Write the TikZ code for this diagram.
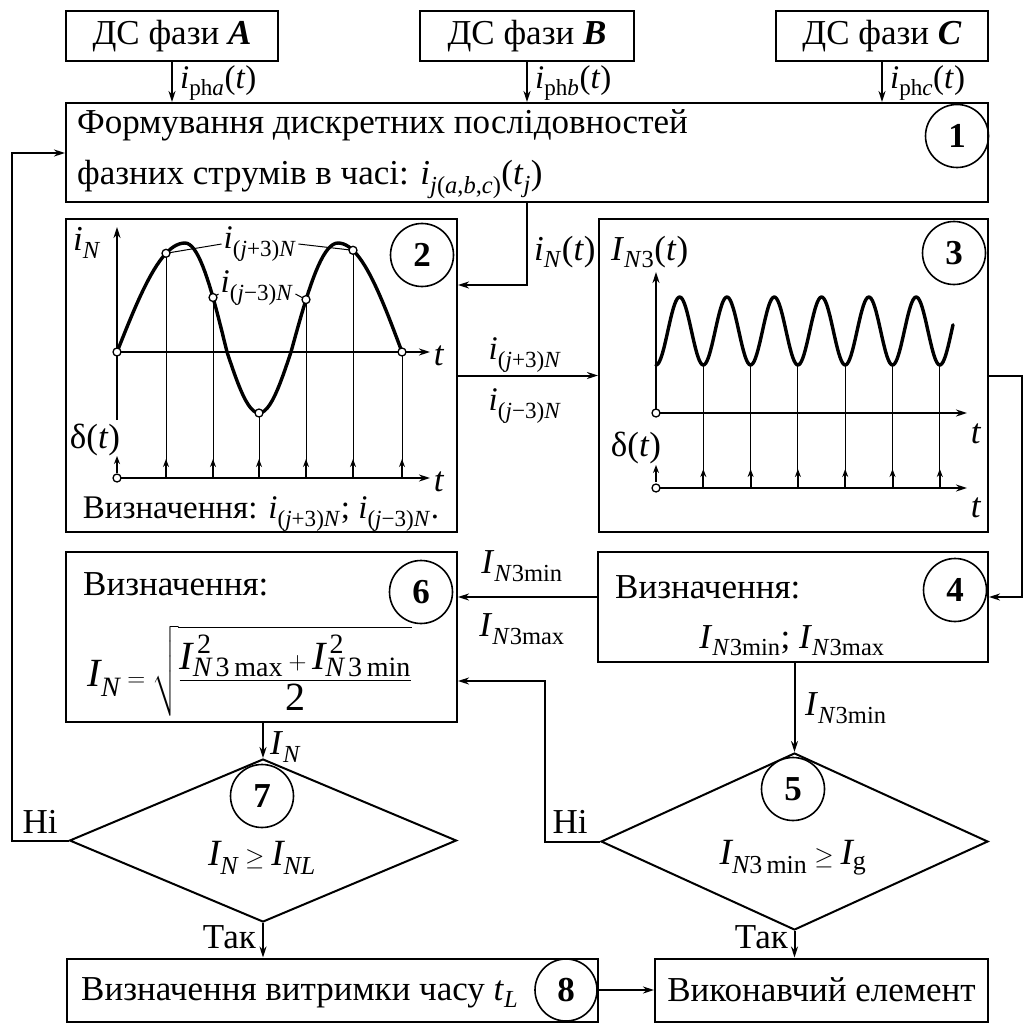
\documentclass[tikz,border=0pt]{standalone}
\usepackage{amsmath}
\usepackage{fontspec}
\setmainfont{Liberation Serif}
\usetikzlibrary{arrows.meta,shapes.geometric}
\newcommand{\sbs}[1]{\textsubscript{#1}}
\newcommand{\vi}[1]{\textit{#1}}
\begin{document}
\begin{tikzpicture}[x=1pt,y=-1pt,
  font=\fontsize{35}{42}\selectfont,
  box/.style={draw, line width=2pt, inner sep=0, rectangle},
  num/.style={circle, draw, line width=1.6pt, minimum size=63pt, inner sep=0, font=\fontsize{35}{42}\selectfont\bfseries},
  lbl/.style={inner sep=0},
  small/.style={font=\fontsize{33}{40}\selectfont},
  conn/.style={line width=2pt, -{Stealth[length=11pt,width=7pt]}},
  ax/.style={line width=2pt, -{Stealth[length=11pt,width=7pt]}},
  crv/.style={line width=3.4pt, line join=round, line cap=round},
  thinln/.style={line width=1pt},
  pulse/.style={line width=2pt, -{Stealth[length=8pt,width=6pt]}},
  dotc/.style={fill=white, draw=black, line width=1.3pt},
  dia/.style={diamond, draw, line width=2pt, inner sep=0},
]
\useasboundingbox (0,0) rectangle (1022,1024);

% ---------- top boxes ----------
\node[box, minimum width=212, minimum height=50] (A) at (172,36) {ДС фази \textbf{\textit{A}}};
\node[box, minimum width=214, minimum height=50] (B) at (527,36) {ДС фази \textbf{\textit{B}}};
\node[box, minimum width=212, minimum height=50] (C) at (882,36) {ДС фази \textbf{\textit{C}}};

% ---------- box 1 ----------
\node[box, minimum width=922, minimum height=99] (b1) at (527,152.5) {};
\node[lbl, anchor=base west] (t1a) at (77,134) {Формування дискретних послідовностей};
\node[lbl, anchor=base west] (t1b) at (77,185) {фазних струмів в часі: \vi{i}\sbs{\vi{j}(\vi{a},\vi{b},\vi{c})}(\vi{t}\sbs{\vi{j}})};
\node[num] (n1) at (957,136) {1};

\draw[conn] (A.south) -- (A.south |- b1.north);
\draw[conn] (B.south) -- (B.south |- b1.north);
\draw[conn] (C.south) -- (C.south |- b1.north);
\node[lbl, small, anchor=west] (la) at (180,83) {\vi{i}\sbs{ph\vi{a}}(\vi{t})};
\node[lbl, small, anchor=west] (lb) at (535,83) {\vi{i}\sbs{ph\vi{b}}(\vi{t})};
\node[lbl, small, anchor=west] (lc) at (890,83) {\vi{i}\sbs{ph\vi{c}}(\vi{t})};

% ---------- box 2 ----------
\node[box, minimum width=391, minimum height=313] (b2) at (261.5,375.5) {};
\node[num] (n2) at (422,255) {2};
\draw[ax] (117,420) -- (117,227);
\draw[ax] (117,352) -- (430,352);
\draw[ax] (117,478) -- (430,478);
\foreach \xx/\yy in {166/253.3, 213/297.5, 259/413, 306/299.6, 353/250.3, 402/352} {
  \draw[thinln] (\xx,478) -- (\xx,\yy);
  \draw[pulse] (\xx,478) -- (\xx,459);
}
\draw[pulse] (117,473) -- (117,456);
\draw[crv] plot[domain=117:185, samples=25] (\x,{352-109*sin(1.3235*(\x-117))})
  -- plot[domain=185:227, samples=20] (\x,{352-109*cos(2.1429*(\x-185))})
  -- plot[domain=227:291, samples=25] (\x,{352+61*sin(2.8125*(\x-227))})
  -- plot[domain=291:338, samples=20] (\x,{352-109*sin(1.9149*(\x-291))})
  -- plot[domain=338:402, samples=25] (\x,{352-109*cos(1.40625*(\x-338))});
\node[lbl, small] (lp) at (260,244) {\vi{i}\sbs{(\vi{j}+3)\vi{N}}};
\node[lbl, small] (lm) at (257,288) {\vi{i}\sbs{(\vi{j}−3)\vi{N}}};
\draw[thinln] (166,253.3) -- ([xshift=-2]lp.west);
\draw[thinln] ([xshift=2]lp.east) -- (353,250.3);
\draw[thinln] (213,297.5) -- ([xshift=-2,yshift=-6]lm.west);
\draw[thinln] ([xshift=2,yshift=-6]lm.east) -- (306,299.6);
\foreach \xx/\yy in {117/352, 166/253.3, 213/297.5, 259/413, 306/299.6, 353/250.3, 402/352, 117/478} {
  \filldraw[dotc] (\xx,\yy) circle[radius=4];
}
\node[lbl] (iN) at (87,243) {\vi{i}\sbs{\vi{N}}};
\node[lbl] (t2a) at (439,356) {\vi{t}};
\node[lbl] (t2b) at (439,482) {\vi{t}};
\node[lbl] (d2) at (95,440) {δ(\vi{t})};
\node[lbl, small] (det2) at (261,514) {Визначення: \vi{i}\sbs{(\vi{j}+3)\vi{N}}; \vi{i}\sbs{(\vi{j}−3)\vi{N}}.};

% ---------- box 3 ----------
\node[box, minimum width=389, minimum height=313] (b3) at (793.5,375.5) {};
\node[num] (n3) at (954,253) {3};
\draw[ax] (656,413) -- (656,272);
\draw[ax] (656,413) -- (967,413);
\draw[ax] (656,488) -- (967,488);
\foreach \k in {1,...,6} {
  \pgfmathsetmacro\xx{656+47.3*\k}
  \draw[thinln] (\xx,488) -- (\xx,365);
  \draw[pulse] (\xx,488) -- (\xx,469);
}
\draw[pulse] (656,482) -- (656,465);
\draw[crv] plot[domain=656:953, samples=240] (\x,{331+34*cos(7.611*(\x-656))});
\filldraw[dotc] (656,413) circle[radius=4];
\filldraw[dotc] (656,488) circle[radius=4];
\node[lbl, anchor=west] (I3) at (611,252) {\vi{I}\sbs{\vi{N}3}(\vi{t})};
\node[lbl] (t3a) at (976,434) {\vi{t}};
\node[lbl] (t3b) at (976,508) {\vi{t}};
\node[lbl] (d3) at (636,448) {δ(\vi{t})};

% connectors 1->2, 2->3
\coordinate (k1) at (527,285);
\draw[conn] (b1.south) -- (k1) -- (b2.east |- k1);
\node[lbl, anchor=west] (liN) at (534,252) {\vi{i}\sbs{\vi{N}}(\vi{t})};
\draw[conn] (b2.east) -- (b3.west);
\node[lbl, small] (l23a) at (525,355) {\vi{i}\sbs{(\vi{j}+3)\vi{N}}};
\node[lbl, small] (l23b) at (525,406) {\vi{i}\sbs{(\vi{j}−3)\vi{N}}};

% ---------- box 4 ----------
\node[box, minimum width=390, minimum height=110] (b4) at (793,607) {};
\node[num] (n4) at (955,590) {4};
\node[lbl, anchor=base west] (t4a) at (615,598) {Визначення:};
\node[lbl, anchor=base] (t4b) at (792,648) {\vi{I}\sbs{\vi{N}3min}; \vi{I}\sbs{\vi{N}3max}};
\coordinate (r1) at (1022,375.5);
\coordinate (r2) at (1022,597);
\draw[conn] (b3.east) -- (r1) -- (r2) -- (b4.east |- r2);

% ---------- box 6 ----------
\node[box, minimum width=391, minimum height=170] (b6) at (261.5,637) {};
\node[num] (n6) at (421,592) {6};
\node[lbl, anchor=base west] (t6a) at (83,595) {Визначення:};
\node[lbl, font=\fontsize{40}{46}\selectfont] (f6) at (250,671) {$\vi{I}_{\vi{N}} = \sqrt{\dfrac{\vi{I}^{\,\text{2}}_{\vi{N}\,\text{3\,max}} + \vi{I}^{\,\text{2}}_{\vi{N}\,\text{3\,min}}}{\text{2}}}$};
\coordinate (m1) at (598,597);
\draw[conn] (b4.west |- m1) -- (b6.east |- m1);
\node[lbl] (l46a) at (522,566) {\vi{I}\sbs{\vi{N}3min}};
\node[lbl] (l46b) at (522,629) {\vi{I}\sbs{\vi{N}3max}};

% ---------- diamonds ----------
\node[dia, minimum width=387, minimum height=163] (d7) at (263,840.5) {};
\node[num, fill=white] (n7) at (262,796) {7};
\node[lbl, font=\fontsize{37}{44}\selectfont] (c7) at (262,858) {$\vi{I}_{\vi{N}} \geq \vi{I}_{\vi{NL}}$};
\node[dia, minimum width=387, minimum height=177] (d5) at (794.5,841.5) {};
\node[num, fill=white] (n5) at (793,789) {5};
\node[lbl, font=\fontsize{37}{44}\selectfont] (c5) at (793,858) {$\vi{I}_{\vi{N}\text{3\,min}} \geq \vi{I}_{\text{g}}$};

\draw[conn] (d7.north |- b6.south) -- (d7.north);
\node[lbl, anchor=west] (lIN) at (270,747) {\vi{I}\sbs{\vi{N}}};
\draw[conn] (d5.north |- b4.south) -- (d5.north);
\node[lbl, anchor=west] (l45) at (805,708) {\vi{I}\sbs{\vi{N}3min}};

% ---------- bottom boxes ----------
\node[box, minimum width=531, minimum height=63] (b8) at (332.5,990) {};
\node[lbl, anchor=base west] (t8) at (81,1000) {Визначення витримки часу \vi{t}\sbs{\vi{L}}};
\node[num, minimum size=62pt] (n8) at (566,990) {8};
\node[box, minimum width=333, minimum height=63] (ex) at (821.5,990) {Виконавчий елемент};
\draw[conn] (b8.east) -- (ex.west);
\draw[conn] (d7.south) -- (d7.south |- b8.north);
\node[lbl, anchor=east] (so7) at (256,937) {Так};
\draw[conn] (d5.south) -- (d5.south |- ex.north);
\node[lbl, anchor=east] (so5) at (788,937) {Так};

% ---------- loops ----------
\coordinate (L1) at (12,840.5);
\coordinate (L2) at (12,153);
\draw[conn] (d7.west) -- (L1) -- (L2) -- (b1.west |- L2);
\node[lbl] (no7) at (40,822) {Ні};
\coordinate (M1) at (545,841.5);
\coordinate (M2) at (545,681);
\draw[conn] (d5.west) -- (M1) -- (M2) -- (b6.east |- M2);
\node[lbl] (no5) at (570,822) {Ні};
\end{tikzpicture}
\end{document}
